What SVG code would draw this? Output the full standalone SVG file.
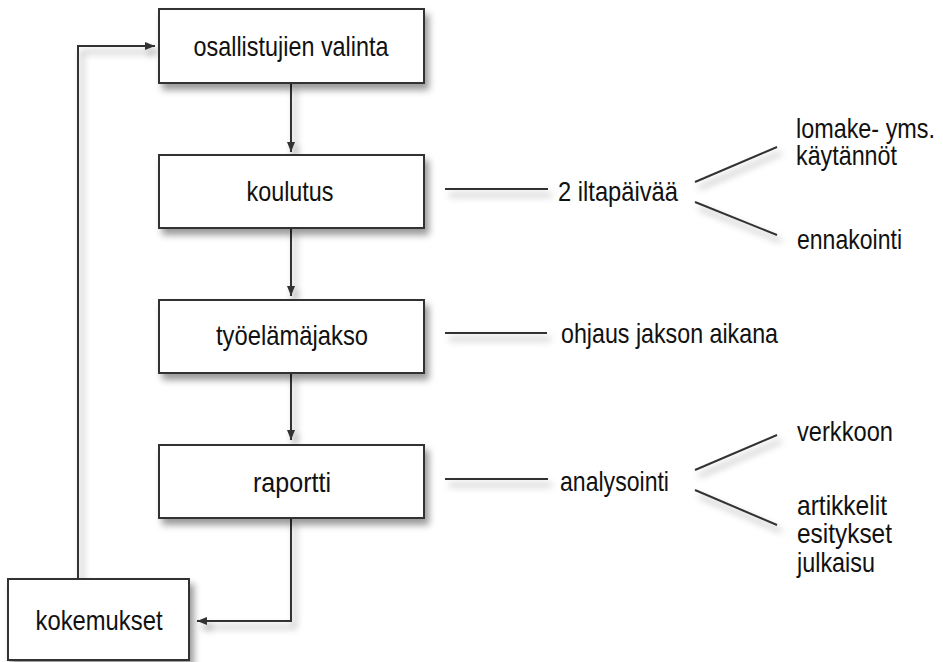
<svg xmlns="http://www.w3.org/2000/svg" width="943" height="662" viewBox="0 0 943 662">
<style>
text{font-family:"Liberation Sans",Arial,sans-serif;font-size:28px;fill:#111;}
.box{fill:#fff;stroke:#333;stroke-width:2;}
.ln{fill:none;stroke:#333;stroke-width:2;}
.c{text-anchor:middle;}
</style>
<defs>
<filter id="sh" x="-20%" y="-20%" width="150%" height="160%">
<feDropShadow dx="4" dy="6" stdDeviation="3.5" flood-color="#000" flood-opacity="0.4"/>
</filter>
<marker id="ah" viewBox="0 0 10 8" refX="10" refY="4" markerWidth="10" markerHeight="8" markerUnits="userSpaceOnUse" orient="auto">
<path d="M0,0 L10,4 L0,8 Z" fill="#333"/>
</marker>
</defs>
<g id="connectors" filter="url(#sh)">
<path class="ln" d="M291,83 V152" marker-end="url(#ah)"/>
<path class="ln" d="M291,228 V296" marker-end="url(#ah)"/>
<path class="ln" d="M291,373 V440" marker-end="url(#ah)"/>
<path class="ln" d="M291,518 V621 H197" marker-end="url(#ah)"/>
<path class="ln" d="M78,579 V46 H155" marker-end="url(#ah)"/>
<path class="ln" d="M445,189 H548"/>
<path class="ln" d="M695,182 L777,147"/>
<path class="ln" d="M695,202 L777,235"/>
<path class="ln" d="M445,333 H547"/>
<path class="ln" d="M445,479 H548"/>
<path class="ln" d="M695,470 L777,435"/>
<path class="ln" d="M695,490 L777,525"/>
</g>
<g id="n1"><rect class="box" x="159" y="9" width="265" height="74" filter="url(#sh)"/><text class="c" x="291" y="56" textLength="195" lengthAdjust="spacingAndGlyphs">osallistujien valinta</text></g>
<g id="n2"><rect class="box" x="159" y="155" width="265" height="73" filter="url(#sh)"/><text class="c" x="290" y="201" textLength="87" lengthAdjust="spacingAndGlyphs">koulutus</text></g>
<g id="n3"><rect class="box" x="159" y="300" width="265" height="73" filter="url(#sh)"/><text class="c" x="292" y="345" textLength="152" lengthAdjust="spacingAndGlyphs">työelämäjakso</text></g>
<g id="n4"><rect class="box" x="159" y="445" width="265" height="73" filter="url(#sh)"/><text class="c" x="292" y="492" textLength="78" lengthAdjust="spacingAndGlyphs">raportti</text></g>
<g id="n5"><rect class="box" x="8" y="579" width="181" height="81" filter="url(#sh)"/><text class="c" x="99" y="630" textLength="127" lengthAdjust="spacingAndGlyphs">kokemukset</text></g>
<g id="t1"><text x="558" y="201" textLength="120" lengthAdjust="spacingAndGlyphs">2 iltapäivää</text></g>
<g id="t2"><text x="796" y="138" textLength="139" lengthAdjust="spacingAndGlyphs">lomake- yms.</text><text x="796" y="165" textLength="101" lengthAdjust="spacingAndGlyphs">käytännöt</text></g>
<g id="t3"><text x="797" y="249" textLength="105" lengthAdjust="spacingAndGlyphs">ennakointi</text></g>
<g id="t4"><text x="561" y="343" textLength="217" lengthAdjust="spacingAndGlyphs">ohjaus jakson aikana</text></g>
<g id="t5"><text x="560" y="491" textLength="109" lengthAdjust="spacingAndGlyphs">analysointi</text></g>
<g id="t6"><text x="797" y="441" textLength="96" lengthAdjust="spacingAndGlyphs">verkkoon</text></g>
<g id="t7"><text x="797" y="515" textLength="90" lengthAdjust="spacingAndGlyphs">artikkelit</text><text x="797" y="543" textLength="95" lengthAdjust="spacingAndGlyphs">esitykset</text><text x="797" y="572" textLength="78" lengthAdjust="spacingAndGlyphs">julkaisu</text></g>
</svg>
